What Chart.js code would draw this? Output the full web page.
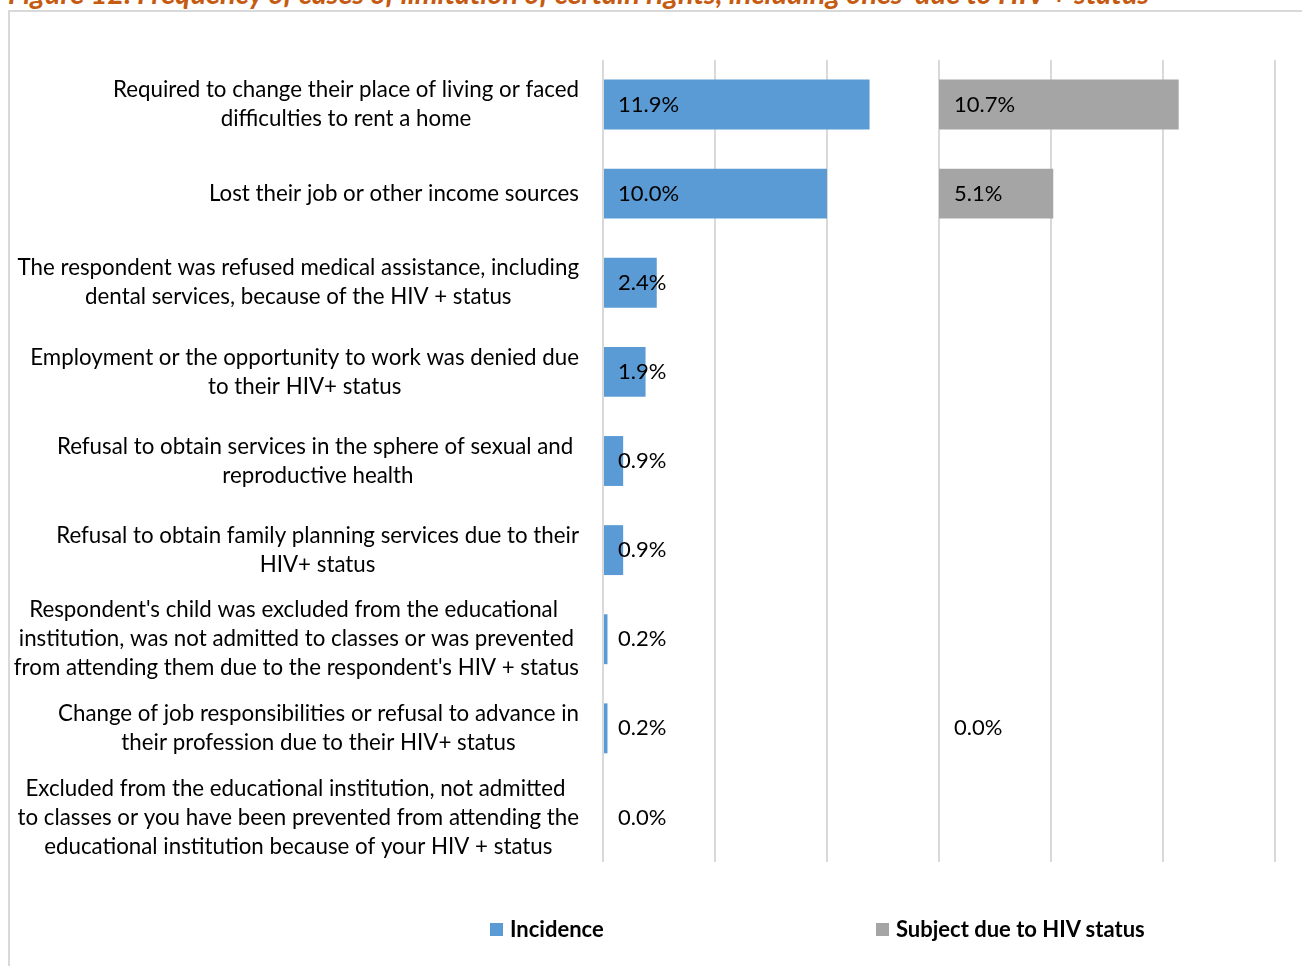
<!DOCTYPE html>
<html>
<head>
<meta charset="utf-8">
<script src="https://cdn.jsdelivr.net/npm/chart.js@4.4.1/dist/chart.umd.min.js"></script>
<style>
	body { margin: 0; width: 1302px; height: 966px; overflow: hidden; background: #fff; position: relative; font-family: Lato, sans-serif; }
	#title { position: absolute; left: 8px; top: -21px; font: italic bold 28.9px Lato; line-height: 28px; color: #C55A11; white-space: nowrap; }
	#frame { position: absolute; left: 8px; top: 10px; width: 1300px; height: 960px; border-left: 2px solid #D9D9D9; border-top: 2px solid #D9D9D9; }
	canvas { position: absolute; left: 0; top: 0; }
	.legend-item { position: absolute; top: 918px; font: bold 22px Lato; line-height: 22px; color: #000; display: flex; align-items: center; white-space: nowrap; }
	.legend-item i { display: inline-block; width: 13px; height: 13px; margin-right: 7px; }
</style>
</head>
<body>
<div id="title">Figure 12. Frequency of cases of limitation of certain rights, including ones' due to HIV + status</div>
<div id="frame"></div>
<canvas id="chart" width="1302" height="966"></canvas>
<div id="legend"></div>
<script>
	const categories = [
		['Required to change their place of living or faced', 'difficulties to rent a home'],
		['Lost their job or other income sources'],
		['The respondent was refused medical assistance, including', 'dental services, because of the HIV + status'],
		['Employment or the opportunity to work was denied due', 'to their HIV+ status'],
		['Refusal to obtain services in the sphere of sexual and ', 'reproductive health'],
		['Refusal to obtain family planning services due to their', 'HIV+ status'],
		["Respondent's child was excluded from the educational ", 'institution, was not admitted to classes or was prevented', "from attending them due to the respondent's HIV + status"],
		['Change of job responsibilities or refusal to advance in', 'their profession due to their HIV+ status'],
		['Excluded from the educational institution, not admitted ', 'to classes or you have been prevented from attending the', 'educational institution because of your HIV + status']
	];
	const incidence = [11.9, 10.0, 2.4, 1.9, 0.9, 0.9, 0.2, 0.2, 0.0];
	const dueToHiv = [10.7, 5.1, null, null, null, null, null, 0.0, null];
	const seriesNames = ['Incidence', 'Subject due to HIV status'];
	const seriesColors = ['#5B9BD5', '#A5A5A5'];

	// each panel covers 15 percentage points
	const panelRange = 15;
	const labelFont = '22.3px Lato';

	// multi-line category labels, each block centred on itself and pushed to the right
	const categoryLabels = {
		id: 'categoryLabels',
		afterDraw(chart) {
			const ctx = chart.ctx;
			const y = chart.scales.y;
			const right = chart.chartArea.left - 24;
			const lineH = 29;
			ctx.save();
			ctx.font = labelFont;
			ctx.fillStyle = '#000';
			ctx.textAlign = 'center';
			ctx.textBaseline = 'middle';
			categories.forEach((lines, i) => {
				const w = Math.max(...lines.map(l => ctx.measureText(l).width));
				const cx = right - w / 2;
				const top = y.getPixelForValue(i) - (lines.length - 1) * lineH / 2;
				lines.forEach((l, k) => ctx.fillText(l, cx, top + k * lineH));
			});
			ctx.restore();
		}
	};

	// value labels just inside the base of each bar
	const valueLabels = {
		id: 'valueLabels',
		afterDatasetsDraw(chart) {
			const ctx = chart.ctx;
			ctx.save();
			ctx.font = '22px Lato';
			ctx.fillStyle = '#000';
			ctx.textAlign = 'left';
			ctx.textBaseline = 'middle';
			chart.data.datasets.forEach((ds, di) => {
				const meta = chart.getDatasetMeta(di);
				const base = chart.scales[ds.xAxisID].getPixelForValue(0);
				meta.data.forEach((bar, i) => {
					const v = ds.data[i];
					if (v === null) return;
					ctx.fillText(v.toFixed(1) + '%', base + 15, bar.y);
				});
			});
			ctx.restore();
		}
	};

	new Chart(document.getElementById('chart'), {
		type: 'bar',
		data: {
			labels: categories,
			datasets: [
				{ label: seriesNames[0], data: incidence, xAxisID: 'x', backgroundColor: seriesColors[0] },
				{ label: seriesNames[1], data: dueToHiv, xAxisID: 'x2', backgroundColor: seriesColors[1] }
			]
		},
		options: {
			indexAxis: 'y',
			responsive: false,
			animation: false,
			devicePixelRatio: 1,
			layout: { padding: { top: 60, bottom: 104, right: 27, left: 0 } },
			datasets: {
				bar: { grouped: false, categoryPercentage: 1, barPercentage: 0.56, borderWidth: 0 }
			},
			plugins: {
				legend: { display: false },
				tooltip: { enabled: false }
			},
			scales: {
				x: {
					min: 0, max: panelRange * 2,
					ticks: { display: false, stepSize: 5 },
					grid: { color: '#D9D9D9', lineWidth: 2, drawTicks: false },
					border: { display: false }
				},
				x2: { display: false, min: -panelRange, max: panelRange },
				y: {
					ticks: { display: false },
					grid: { display: false },
					border: { display: false },
					afterFit(scale) { scale.width = 603; }
				}
			}
		},
		plugins: [categoryLabels, valueLabels]
	});

	// legend spread out under the two panels
	const legendLeft = [490, 876];
	const legend = document.getElementById('legend');
	seriesNames.forEach((name, i) => {
		const item = document.createElement('div');
		item.className = 'legend-item';
		item.style.left = legendLeft[i] + 'px';
		item.innerHTML = `<i style="background:${seriesColors[i]}"></i>${name}`;
		legend.appendChild(item);
	});
</script>
</body>
</html>
